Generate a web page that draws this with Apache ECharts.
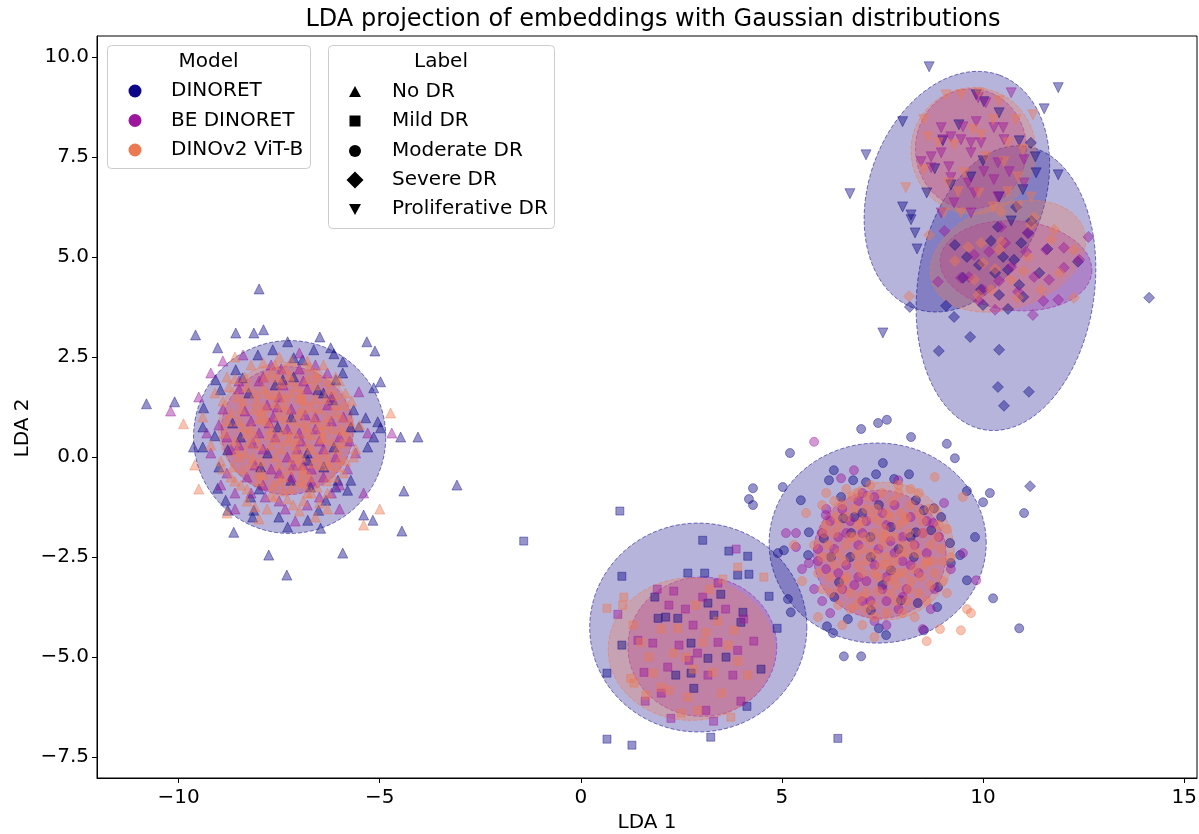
<!DOCTYPE html>
<html>
<head>
<meta charset="utf-8">
<title>LDA projection of embeddings with Gaussian distributions</title>
<script src="https://cdn.jsdelivr.net/npm/echarts@6/dist/echarts.min.js"></script>
<style>
  html, body { margin: 0; padding: 0; background: #fff; }
  #chart { width: 1199px; height: 834px; }
</style>
</head>
<body>
<div id="chart"></div>
<script>
// ---- categories and tick labels ----
const models = ['DINORET', 'BE DINORET', 'DINOv2 ViT-B'];
const labels = ['No DR', 'Mild DR', 'Moderate DR', 'Severe DR', 'Proliferative DR'];
const xTicks = [-10, -5, 0, 5, 10, 15];
const yTicks = [-7.5, -5, -2.5, 0, 2.5, 5, 7.5, 10];

// ---- LDA points: [LDA 1, LDA 2] ----
// No DR
const noDrDinoret = [[-10.8,1.33],[-10.1,1.38],[-9.58,3.05],[-9.03,2.73],[-8.58,3.1],[-8.13,3.1],[-7.89,3.18],[-8.0,4.2],[-7.29,2.88],[-6.49,3.0],[-6.22,2.73],[-5.32,2.88],[-5.12,2.65],[-4.98,1.88],[-5.15,1.73],[-4.48,0.5],[-4.05,0.5],[-4.4,-0.85],[-4.45,-1.85],[-5.17,-1.58],[-5.4,-1.45],[-5.92,-2.4],[-7.76,-2.45],[-7.31,-2.95],[-8.63,-1.88],[-9.63,0.25],[-9.4,0.25],[-9.4,0.75],[-3.08,-0.7],
  [-8.03,2.55],[-7.66,2.68],[-7.14,2.48],[-6.92,2.43],[-6.64,2.68],[-6.14,2.58],[-5.92,2.38],[-8.58,2.18],[-9.08,1.93],[-8.96,1.68],[-9.38,1.23],[-9.1,0.53],[-8.78,0.18],[-9.0,-0.25],[-9.03,-0.78],[-8.83,-1.08],[-8.78,-1.33],[-8.21,-1.0],[-8.13,-1.33],[-8.16,-1.5],[-7.51,-1.5],[-7.29,-1.75],[-6.79,-1.58],[-6.52,-1.33],[-6.47,-1.78],[-6.34,-1.08],[-6.09,-0.75],[-5.8,-0.83],[-5.72,-0.58],[-5.35,0.98],[-5.52,0.75],[-5.05,0.88],[-5.15,0.5],[-5.3,0.25],[-4.98,0.73],[-6.09,1.93],[-5.92,2.1],[-6.17,1.43],[-5.65,1.18],[-5.72,0.75],[-7.14,2.0],[-7.41,1.93],[-8.41,1.98],[-8.26,1.6],[-8.66,0.85],[-8.46,0.5],[-6.14,0.25],[-6.39,-0.25],[-6.79,-0.08],[-7.79,0.1],[-7.96,-0.25],[-7.21,-0.58],[-6.72,-0.75],[-6.04,-0.58],[-7.54,0.75],[-6.54,1.68],[-7.2,1.0],[-6.8,0.1],[-7.6,1.8],[-8.0,-0.8],[-6.4,1.6]];
const noDrBe = [[-10.2,1.15],[-9.5,1.5],[-9.2,2.1],[-8.9,2.4],[-8.4,2.55],[-7.7,2.3],[-7.0,2.2],[-6.3,2.1],[-5.52,1.63],[-4.7,0.6],[-5.3,0.6],[-5.6,0.1],[-5.8,-0.3],[-6.2,-0.9],[-6.8,-1.2],[-7.5,-1.1],[-8.2,-0.9],[-8.8,-0.4],[-9.2,0.1],[-9.3,0.6],[-8.9,1.2],[-8.5,1.7],[-8.0,1.9],[-7.4,1.8],[-6.8,1.7],[-6.2,1.5],[-5.9,1.0],[-6.0,0.5],[-6.4,0.2],[-6.9,-0.2],[-7.5,-0.4],[-8.1,-0.2],[-8.5,0.3],[-8.2,0.9],[-7.8,1.3],[-7.2,1.2],[-6.6,1.0],[-6.5,0.4],[-7.0,0.6],[-7.6,0.5],[-7.9,0.2],[-7.3,0.0],[-6.7,-0.6],[-7.9,-0.7],[-8.6,-1.3],[-7.1,-1.6],[-6.0,-1.3],[-5.4,-0.9],[-9.0,0.8],[-7.0,2.6],
  [-8.7,0.2],[-8.35,1.15],[-8.0,0.6],[-7.65,1.0],[-7.3,0.7],[-6.95,0.4],[-6.6,0.7],[-6.3,1.3],[-6.1,0.0],[-6.7,-0.3],[-7.2,-0.5],[-7.7,-0.3],[-8.3,-0.5],[-7.5,1.5],[-6.9,1.9],[-7.9,2.0],[-6.0,-0.7],[-8.6,-0.9],[-7.35,-1.3],[-6.5,-1.0],
  [-8.8,0.5],[-8.5,1.9],[-8.15,0.35],[-7.85,-1.0],[-7.55,1.25],[-7.15,-0.2],[-6.85,1.05],[-6.4,-0.5],[-6.2,0.9],[-5.75,0.4],[-7.45,2.2],[-6.6,2.3],[-8.95,-0.7],[-7.05,0.2],[-7.75,0.85]];
const noDrDinov2 = [[-9.88,0.83],[-4.73,1.1],[-9.1,1.6],[-8.8,2.0],[-8.2,2.3],[-7.5,2.5],[-6.8,2.4],[-6.1,2.0],[-5.7,1.4],[-5.5,0.8],[-5.6,0.2],[-5.9,-0.4],[-6.3,-0.9],[-6.9,-1.1],[-7.6,-1.0],[-8.3,-0.8],[-8.9,-0.3],[-9.2,0.3],[-8.8,0.9],[-8.4,1.4],[-7.9,1.7],[-7.2,1.9],[-6.6,1.8],[-6.1,1.3],[-6.0,0.7],[-6.3,-0.1],[-6.9,-0.4],[-7.4,-0.5],[-8.0,-0.4],[-8.5,0.0],[-8.3,0.6],[-7.9,1.0],[-7.4,1.3],[-6.9,1.2],[-6.5,0.8],[-6.8,0.3],[-7.3,0.4],[-7.7,0.7],[-7.1,0.9],[-7.6,0.0],[-7.0,-0.2],[-6.4,0.5],[-8.0,0.3],[-8.6,-0.6],[-9.5,-0.8],[-8.8,-1.4],[-8.0,-1.55],[-6.6,-1.5],[-5.4,-1.7],[-5.0,-1.3],[-9.4,1.0],[-7.0,1.5],[-6.3,1.0],[-7.5,1.6],[-8.1,1.2],[-6.7,-0.9],[-7.2,-0.8],[-5.8,0.5],[-9.6,-0.2],[-8.6,2.5],
  [-8.7,1.1],[-8.6,0.4],[-8.4,-0.3],[-8.2,0.7],[-8.1,1.6],[-7.95,-0.1],[-7.8,0.9],[-7.7,2.1],[-7.65,-0.7],[-7.5,1.05],[-7.45,0.2],[-7.35,2.2],[-7.25,-0.3],[-7.15,0.65],[-7.05,1.75],[-6.95,0.0],[-6.85,1.4],[-6.75,-0.5],[-6.7,0.55],[-6.6,2.1],[-6.5,1.2],[-6.45,-0.2],[-6.35,0.8],[-6.25,1.7],[-6.15,-0.5],[-6.05,0.2],[-5.95,1.0],[-5.85,-0.1],[-5.75,0.9],[-8.35,2.0],[-8.55,1.5],[-8.85,0.6],[-8.95,-0.1],[-7.9,2.35],[-7.2,2.4],[-6.4,2.3],[-6.0,1.9],[-7.8,-1.3],[-7.0,-1.35],[-6.3,-1.3],[-8.3,-1.1],[-7.55,0.45],[-7.1,0.3],[-6.9,0.85],[-7.35,1.5],[-7.85,1.25],[-8.15,0.0],[-6.55,0.0],[-6.8,-0.9],[-7.4,-0.85],
  [-8.75,1.75],[-8.5,0.9],[-8.45,-0.7],[-8.25,0.35],[-8.05,1.4],[-7.9,-0.45],[-7.75,0.55],[-7.6,1.35],[-7.55,2.0],[-7.5,-0.2],[-7.35,0.95],[-7.3,-1.05],[-7.2,1.6],[-7.1,0.1],[-7.0,1.1],[-6.9,-0.65],[-6.85,0.6],[-6.8,1.95],[-6.7,0.2],[-6.6,1.45],[-6.55,-0.75],[-6.45,0.45],[-6.3,1.9],[-6.25,-0.2],[-6.2,0.7],[-6.1,1.55],[-5.95,0.35],[-5.9,1.3],[-8.65,-0.25],[-8.0,0.95],[-7.7,-0.95],[-7.25,0.5],[-6.95,1.45],[-6.65,0.95],[-7.8,1.6],[-8.35,0.1],[-7.45,1.85],[-7.0,-0.6],[-6.35,0.1],[-6.05,-0.25],
  [-8.9,1.4],[-8.7,-0.5],[-8.55,0.15],[-8.4,0.75],[-8.3,1.75],[-8.2,-0.15],[-8.1,0.5],[-7.95,1.15],[-7.85,2.0],[-7.7,0.3],[-7.65,1.55],[-7.5,-0.6],[-7.4,0.65],[-7.3,1.2],[-7.25,2.05],[-7.15,-0.05],[-7.05,0.45],[-6.95,1.6],[-6.9,-0.3],[-6.8,0.75],[-6.7,1.25],[-6.65,-0.15],[-6.55,2.0],[-6.45,0.65],[-6.35,1.45],[-6.3,-0.6],[-6.2,0.4],[-6.1,1.1],[-6.0,-0.05],[-5.9,0.65],[-8.45,1.2],[-8.0,-0.6],[-7.6,2.3],[-6.75,2.25],[-5.85,1.6],[-8.6,1.95],[-7.15,-1.2],[-6.5,-1.15],[-8.1,-1.25],[-5.65,0.0]];

// Mild DR
const mildDinoret = [[0.97,-1.35],[-1.42,-2.1],[3.03,-2.08],[4.15,-2.48],[3.68,-2.35],[2.66,-2.9],[3.08,-2.9],[3.9,-2.95],[4.18,-2.93],[1.02,-2.98],[4.68,-3.48],[4.88,-4.28],[1.84,-3.5],[1.02,-4.7],[0.65,-5.4],[4.13,-6.23],[4.48,-5.3],[0.65,-7.05],[1.27,-7.2],[3.23,-7.0],[6.39,-7.03],
  [1.92,-4.03],[2.11,-4.0],[2.41,-4.03],[3.31,-3.95],[4.03,-3.88],[2.74,-4.65],[3.61,-5.0],[2.36,-5.45],[2.74,-5.4],[3.16,-5.03],[2.81,-5.78],[3.98,-4.13],[3.48,-3.43],[3.16,-3.65]];
const mildBe = [[3.86,-2.3],[2.31,-3.35],[0.92,-3.93],[3.03,-3.5],[2.19,-3.7],[3.41,-3.15],[2.79,-4.2],[2.44,-4.7],[1.79,-4.65],[3.41,-4.63],[3.9,-4.83],[2.16,-5.25],[3.16,-5.45],[3.78,-5.45],[2.24,-6.53],[3.98,-6.1],[3.11,-6.33],[4.05,-4.05],[1.57,-5.38],[2.69,-5.08],[1.42,-4.58],
  [2.0,-5.9],[2.6,-3.8],[3.6,-3.8],[1.9,-3.3],[3.3,-6.6],[4.3,-4.6],[2.9,-4.9],[1.6,-6.1]];
const mildDinov2 = [[0.65,-3.78],[1.07,-3.5],[1.04,-3.7],[4.55,-3.0],[3.9,-2.75],[3.53,-3.05],[2.86,-3.7],[2.41,-4.28],[3.03,-4.63],[1.49,-4.63],[1.69,-5.0],[2.61,-5.0],[3.66,-4.7],[1.32,-5.65],[1.24,-5.53],[2.19,-5.83],[2.66,-6.0],[3.73,-6.5],[2.91,-6.33],[4.15,-5.45],[3.81,-4.33],[1.99,-5.75],[1.62,-5.95],[3.28,-5.38],[3.11,-4.38],
  [2.0,-4.3],[2.3,-4.9],[2.8,-5.3],[3.4,-4.1],[3.5,-5.9],[1.8,-5.4],[2.5,-6.4],[3.9,-5.1],[1.3,-4.2],[3.2,-3.3]];

// Moderate DR
const moderateDinoret = [[6.97,0.7],[7.39,0.85],[7.61,0.93],[8.21,0.5],[9.1,0.33],[9.3,-0.03],[5.2,0.1],[6.29,-0.33],[6.47,-1.0],[7.51,-0.15],[8.16,-0.43],[9.6,-0.85],[10.17,-0.9],[10.0,-1.13],[11.02,-1.4],[9.8,-2.0],[9.43,-2.45],[9.6,-3.08],[10.25,-3.53],[10.9,-4.28],[8.86,-3.75],[8.53,-4.33],[7.59,-4.45],[7.41,-4.28],[6.64,-4.05],[6.27,-4.4],[6.12,-4.23],[6.54,-4.98],[6.97,-4.98],[5.22,-3.88],[5.15,-3.55],[4.9,-2.4],[5.05,-2.33],[5.47,-1.08],[5.02,-0.75],[4.28,-0.78],[4.28,-1.2],[4.18,-1.05],[5.67,-1.88],[6.17,-0.58],[6.77,-0.58],[7.09,-0.63],[7.34,-0.43],[7.79,-0.55],[8.33,-1.08],[8.78,-1.28],[8.96,-1.5],[9.18,-2.15],[9.2,-2.65],[8.88,-3.25],[8.38,-3.65],[7.96,-3.58],[7.21,-3.83],[6.42,-3.13],[6.22,-2.5],[6.52,-1.53],[7.41,-1.2],[8.53,-1.33],[8.71,-1.83],[8.33,-1.88],[7.71,-2.83],[7.21,-2.5],[6.72,-1.9],[7.71,-1.75],[8.28,-2.5],[6.04,-2.03],[5.65,-2.45],
  [6.8,-1.5],[7.2,-2.0],[7.9,-2.3],[7.5,-3.2],[6.7,-2.5],[8.2,-2.0],[6.3,-3.5],[7.0,-1.4]];
const moderateBe = [[5.8,0.38],[5.1,-1.9],[5.35,-1.9],[5.35,-2.25],[5.67,-2.65],[6.47,-0.53],[6.79,-0.33],[7.89,-0.58],[9.03,-1.15],[8.76,-1.65],[9.83,-3.08],[6.09,-1.45],
  [6.2,-1.6],[6.5,-1.3],[6.9,-1.1],[7.3,-1.0],[7.8,-1.2],[8.2,-1.5],[8.5,-1.9],[8.6,-2.4],[8.4,-2.9],[8.1,-3.3],[7.6,-3.6],[7.0,-3.6],[6.5,-3.3],[6.1,-2.8],[5.9,-2.3],[6.0,-1.9],[6.6,-1.9],[7.1,-1.6],[7.6,-1.7],[8.0,-2.0],[8.0,-2.6],[7.6,-3.0],[7.1,-3.1],[6.6,-2.7],[6.9,-2.2],[7.4,-2.3],[7.3,-2.7],[7.8,-2.4],[6.3,-2.3],[6.8,-3.2],[7.9,-3.8],[8.8,-3.3],[5.8,-3.3],[6.2,-3.9],[7.3,-4.1],[8.5,-4.3],[9.2,-2.8],[9.5,-2.4],[5.5,-2.8],
  [6.4,-2.0],[6.7,-1.6],[7.0,-1.9],[7.5,-1.4],[7.7,-2.1],[8.3,-2.2],[8.2,-2.7],[7.5,-3.3],[6.9,-3.0],[6.4,-2.9],[5.9,-2.6],[7.2,-3.6],[8.6,-1.6],[8.9,-2.0],[6.1,-1.3],[7.0,-0.9],[8.0,-3.5],[8.7,-3.8],[6.0,-3.6],[7.6,-4.2]];
const moderateDinov2 = [[6.0,-1.2],[6.6,-0.8],[7.2,-0.7],[7.9,-0.7],[8.4,-0.9],[8.8,-1.3],[9.1,-1.8],[9.2,-2.5],[9.0,-3.1],[8.6,-3.6],[8.0,-3.9],[7.3,-4.0],[6.7,-3.8],[6.2,-3.4],[5.9,-2.9],[5.8,-2.2],[6.1,-1.7],[6.6,-1.5],[7.1,-1.3],[7.6,-1.4],[8.1,-1.5],[8.5,-1.9],[8.6,-2.6],[8.2,-3.1],[7.7,-3.4],[7.1,-3.4],[6.6,-3.0],[6.4,-2.4],[6.8,-2.0],[7.3,-1.9],[7.8,-2.0],[8.1,-2.4],[7.9,-2.9],[7.4,-3.0],[6.9,-2.7],[7.2,-2.4],[7.6,-2.5],[7.5,-2.2],[7.0,-2.3],[7.9,-1.7],[6.3,-1.9],[5.3,-2.2],[5.5,-3.1],[5.6,-1.4],[5.9,-4.0],[6.5,-4.2],[9.6,-3.8],[9.45,-4.33],[9.7,-3.9],[8.93,-4.3],[8.6,-4.6],[7.3,-4.5],[8.8,-0.5],[9.5,-1.0],[6.1,-0.9],
  [6.3,-2.7],[6.5,-1.2],[6.7,-3.4],[6.9,-1.7],[7.0,-2.9],[7.15,-1.0],[7.25,-3.7],[7.4,-1.6],[7.45,-2.7],[7.7,-2.8],[7.75,-1.1],[7.85,-3.2],[8.0,-2.2],[8.2,-1.2],[8.3,-2.8],[8.4,-3.4],[8.5,-1.6],[8.7,-2.2],[8.8,-2.9],[8.9,-1.7],[6.2,-3.0],[6.0,-2.5],[6.4,-3.7],[7.6,-3.9],[8.1,-3.6],[6.8,-1.3],[7.9,-0.9],[6.6,-2.2],[7.2,-2.1],[7.8,-2.6],
  [6.15,-2.2],[6.35,-1.5],[6.55,-2.6],[6.75,-1.0],[6.95,-3.5],[7.05,-2.0],[7.3,-2.9],[7.35,-1.3],[7.55,-1.8],[7.65,-3.1],[7.95,-1.4],[8.05,-2.9],[8.15,-1.9],[8.35,-2.4],[8.45,-3.0],[8.65,-1.3],[8.75,-2.6],[8.95,-2.3],[6.45,-3.3],[7.1,-3.8],[7.85,-3.6],[6.05,-1.9],[7.35,-2.45],[7.6,-2.0],[6.85,-2.45],
  [6.2,-2.5],[6.4,-1.7],[6.55,-3.1],[6.7,-2.0],[6.85,-3.7],[7.0,-1.6],[7.1,-2.6],[7.25,-1.5],[7.4,-3.35],[7.5,-2.0],[7.6,-2.7],[7.7,-1.5],[7.8,-3.0],[7.95,-2.4],[8.05,-1.6],[8.15,-3.3],[8.25,-2.2],[8.4,-1.4],[8.55,-2.7],[8.7,-3.2],[8.85,-2.0],[9.0,-2.6],[6.9,-0.9],[7.5,-0.9],[8.2,-0.8],[6.3,-1.1],[6.0,-3.3],[7.0,-4.2],[8.3,-4.0],[9.1,-3.4]];

// Severe DR
const severeDinoret = [[14.13,3.98],[11.17,-0.73],[10.52,1.28],[8.18,3.75],[9.08,3.78],[9.28,3.5],[9.68,3.0],[8.9,2.65],[10.4,2.68],[10.37,1.75],[11.14,1.63],[10.82,6.25],[10.62,3.7],[10.37,5.75],[9.5,4.48],[11.12,5.6],[10.95,5.35],[10.77,4.93],[10.4,4.05],[9.95,4.18],[12.36,4.88],[10.62,4.68],[11.19,7.85],
  [9.6,5.0],[10.2,5.4],[10.9,4.3],[11.4,4.6],[11.6,5.2],[9.9,4.8],[10.5,5.0],[11.0,4.0],[10.0,3.8],[10.3,4.6],[11.2,5.9],[9.3,5.3]];
const severeBe = [[12.62,5.5],[8.88,4.38],[10.3,3.68],[11.24,3.55],[11.87,3.93],[9.04,5.65],[10.45,5.75],[11.12,5.6],[11.57,5.18],[12.01,5.23],[12.39,4.93],[11.64,4.43],[12.01,4.73],[9.78,5.05],[10.15,5.13],[10.7,4.75],[11.07,5.13],[11.27,4.5],[10.0,4.18],[10.87,4.13],[9.65,4.5],[9.45,4.48],[10.4,4.4],[11.5,3.9],[9.9,3.9],[10.55,5.35]];
const severeDinov2 = [[8.16,4.02],[8.66,5.55],[11.27,6.0],[11.19,5.8],[11.77,5.68],[10.45,5.38],[9.95,5.35],[10.4,5.18],[11.12,5.0],[10.7,4.43],[10.2,4.18],[9.88,4.05],[10.87,3.98],[11.44,4.18],[12.26,3.98],[10.0,4.85],[9.78,4.43],[11.69,5.43],[12.26,5.18],[9.63,5.25],[10.45,6.13],[11.0,4.65],[10.3,4.7],[9.3,4.9],[11.9,4.6]];

// Proliferative DR
const prolifDinoret = [[8.66,9.75],[11.87,9.23],[11.52,8.7],[8.0,8.38],[7.09,7.55],[6.69,6.58],[7.51,3.1],[8.0,6.25],[8.21,6.05],[8.31,5.6],[8.36,5.2],[8.21,5.93],[11.32,7.1],[11.87,7.05],[10.99,6.68],[9.83,9.05],[10.02,8.88],
  [9.4,8.3],[9.0,7.9],[10.4,8.6],[10.9,7.9],[11.3,7.5],[9.7,7.0],[9.2,6.8],[10.4,6.5],[8.8,7.2],[10.0,7.4],[8.6,6.6],[10.7,5.9]];
const prolifBe = [[10.7,9.1],[9.88,8.98],[10.07,8.85],[8.96,8.23],[9.5,8.25],[9.83,8.38],[10.27,8.23],[10.5,8.23],[9.0,7.93],[9.2,8.0],[9.45,7.93],[9.7,7.85],[8.46,7.38],[8.71,7.5],[8.96,7.6],[8.71,7.23],[9.15,7.25],[9.7,7.6],[9.95,7.85],[10.52,7.93],[11.02,7.43],[10.37,7.35],[10.02,7.13],[10.65,7.13],[9.63,6.85],[9.2,6.98],[10.27,6.93],[9.78,6.6],[10.37,6.5],[9.28,6.35],[8.96,6.1],[9.7,6.1],[11.02,6.85]];
const prolifDinov2 = [[9.08,9.05],[9.45,9.05],[10.25,8.43],[11.24,8.55],[8.53,8.43],[8.63,8.0],[9.75,8.18],[9.95,8.05],[10.62,7.85],[10.82,8.43],[10.99,7.68],[8.08,6.73],[8.53,7.18],[8.88,7.85],[9.28,7.8],[10.07,7.5],[9.53,7.1],[9.13,6.85],[9.38,6.63],[9.9,6.6],[10.62,6.63],[10.87,7.0],[10.52,7.38],[11.19,6.5],[10.25,6.25],[9.45,6.1],[9.03,6.1],[10.87,6.25],[9.9,9.1],[10.4,8.9]];

// ---- Gaussian ellipses: [centre x, centre y, semi-axis a, semi-axis b, angle of a (deg)] ----
const ellipsesDinoret = [[-7.24,0.5,2.39,2.41,0],[2.92,-4.26,2.7,2.61,0],[7.38,-2.15,2.7,2.5,0],[10.57,4.22,3.58,2.2,82],[9.35,6.63,3.1,2.18,70]];
const ellipsesBe = [[-7.3,0.66,1.64,1.6,0],[3.02,-4.74,1.85,1.74,0],[7.43,-2.43,1.65,1.6,0],[10.82,4.78,1.89,1.12,-5],[9.7,7.7,1.38,1.5,0]];
const ellipsesDinov2 = [[-7.33,0.73,1.68,1.63,0],[2.74,-4.8,2.06,1.78,0],[7.56,-2.35,1.72,1.72,0],[10.62,5.02,2.0,1.3,20],[9.76,7.65,1.55,1.58,0]];

// ---- styling ----
const modelRgb = ['13,8,135', '156,23,158', '237,121,83'];
const labelSymbols = [
  { symbol: 'triangle', size: 10, rotate: 0 },
  { symbol: 'rect', size: 8, rotate: 0 },
  { symbol: 'circle', size: 9, rotate: 0 },
  { symbol: 'diamond', size: 11, rotate: 0 },
  { symbol: 'triangle', size: 10, rotate: 180 }
];
const pointsByModel = [
  [noDrDinoret, mildDinoret, moderateDinoret, severeDinoret, prolifDinoret],
  [noDrBe, mildBe, moderateBe, severeBe, prolifBe],
  [noDrDinov2, mildDinov2, moderateDinov2, severeDinov2, prolifDinov2]
];
const ellipsesByModel = [ellipsesDinoret, ellipsesBe, ellipsesDinov2];
const FONT = 'DejaVu Sans';

function minusFmt(s) { return String(s).replace('-', '\u2212'); }

function scatterSeries(modelIdx, labelIdx) {
  const rgb = modelRgb[modelIdx];
  const sym = labelSymbols[labelIdx];
  return {
    type: 'scatter',
    name: models[modelIdx] + ' / ' + labels[labelIdx],
    data: pointsByModel[modelIdx][labelIdx],
    symbol: sym.symbol,
    symbolSize: sym.size,
    symbolRotate: sym.rotate,
    itemStyle: { color: 'rgba(' + rgb + ',0.55)', borderColor: 'rgba(' + rgb + ',0.5)', borderWidth: 1 },
    emphasis: { disabled: true },
    silent: true,
    animation: false
  };
}

function ellipseSeries(modelIdx) {
  const rgb = modelRgb[modelIdx];
  return {
    type: 'custom',
    name: models[modelIdx] + ' ellipses',
    data: ellipsesByModel[modelIdx],
    encode: { x: 0, y: 1 },
    silent: true,
    animation: false,
    clip: true,
    renderItem: function (params, api) {
      const cx = api.value(0), cy = api.value(1);
      const a = api.value(2), b = api.value(3);
      const th = api.value(4) * Math.PI / 180;
      const pts = [];
      const n = 120;
      for (let k = 0; k < n; k++) {
        const t = 2 * Math.PI * k / n;
        const dx = a * Math.cos(t) * Math.cos(th) - b * Math.sin(t) * Math.sin(th);
        const dy = a * Math.cos(t) * Math.sin(th) + b * Math.sin(t) * Math.cos(th);
        pts.push(api.coord([cx + dx, cy + dy]));
      }
      return {
        type: 'polygon',
        shape: { points: pts },
        style: { fill: 'rgba(' + rgb + ',0.3)', stroke: 'rgba(' + rgb + ',0.55)', lineWidth: 1, lineDash: [4, 2] }
      };
    }
  };
}

// points of each model first, then that model's ellipses
const series = [];
for (let m = 0; m < models.length; m++) {
  for (let l = 0; l < labels.length; l++) series.push(scatterSeries(m, l));
  series.push(ellipseSeries(m));
}

// ---- legend boxes and y-axis title (graphic elements) ----
const legendFont = '20px "' + FONT + '"';
const graphic = [];
function legendBox(x, y, w, h, title) {
  graphic.push({ type: 'rect', z: 100, shape: { x: x + 0.5, y: y + 0.5, width: w, height: h, r: 4 },
    style: { fill: 'rgba(255,255,255,0.8)', stroke: '#cccccc', lineWidth: 1 } });
  graphic.push({ type: 'text', z: 101, x: x + w / 2, y: y + 17,
    style: { text: title, font: legendFont, fill: '#000', textAlign: 'center', textVerticalAlign: 'middle' } });
}
legendBox(107, 45, 203, 123, 'Model');
legendBox(328, 45, 226, 183, 'Label');
const modelRows = [91, 120.5, 150];
models.forEach(function (name, i) {
  graphic.push({ type: 'circle', z: 101, shape: { cx: 135, cy: modelRows[i], r: 6.5 }, style: { fill: 'rgb(' + modelRgb[i] + ')' } });
  graphic.push({ type: 'text', z: 101, x: 171, y: modelRows[i],
    style: { text: name, font: legendFont, fill: '#000', textAlign: 'left', textVerticalAlign: 'middle' } });
});
const labelRows = [92, 121, 151, 180, 209];
const ix = 355;
const labelIcons = [
  { type: 'polygon', shape: { points: [[ix - 6, labelRows[0] + 5], [ix + 6, labelRows[0] + 5], [ix, labelRows[0] - 6]] } },
  { type: 'rect', shape: { x: ix - 5.5, y: labelRows[1] - 5.5, width: 11, height: 11 } },
  { type: 'circle', shape: { cx: ix, cy: labelRows[2], r: 6 } },
  { type: 'polygon', shape: { points: [[ix, labelRows[3] - 8.5], [ix + 8.5, labelRows[3]], [ix, labelRows[3] + 8.5], [ix - 8.5, labelRows[3]]] } },
  { type: 'polygon', shape: { points: [[ix - 6, labelRows[4] - 5], [ix + 6, labelRows[4] - 5], [ix, labelRows[4] + 6]] } }
];
labels.forEach(function (name, i) {
  const icon = labelIcons[i];
  icon.z = 101;
  icon.style = { fill: '#000' };
  graphic.push(icon);
  graphic.push({ type: 'text', z: 101, x: 392, y: labelRows[i],
    style: { text: name, font: legendFont, fill: '#000', textAlign: 'left', textVerticalAlign: 'middle' } });
});
graphic.push({ type: 'text', z: 101, x: 23, y: 428, rotation: Math.PI / 2,
  style: { text: 'LDA 2', font: '20px "' + FONT + '"', fill: '#000', textAlign: 'center', textVerticalAlign: 'middle' } });

const chart = echarts.init(document.getElementById('chart'), null, { renderer: 'canvas' });
chart.setOption({
  backgroundColor: '#ffffff',
  animation: false,
  title: {
    text: 'LDA projection of embeddings with Gaussian distributions',
    left: 648, top: 3, textAlign: 'center',
    textStyle: { fontFamily: FONT, fontSize: 24, fontWeight: 'normal', color: '#000' }
  },
  grid: { left: 97, right: 2, top: 36, bottom: 56, show: true, borderColor: '#000', borderWidth: 1,
    backgroundColor: 'transparent', containLabel: false, outerBoundsMode: 'none' },
  xAxis: {
    type: 'value', min: -12.03, max: 15.32,
    name: 'LDA 1', nameLocation: 'middle', nameGap: 34,
    nameTextStyle: { fontFamily: FONT, fontSize: 20, color: '#000' },
    splitLine: { show: false },
    axisLine: { show: true, onZero: false, lineStyle: { color: '#000', width: 1 } },
    axisTick: { show: true, customValues: xTicks, length: 5, lineStyle: { color: '#000' } },
    axisLabel: { customValues: xTicks, fontFamily: FONT, fontSize: 20, color: '#000', margin: 10,
      formatter: function (v) { return minusFmt(v); } }
  },
  yAxis: {
    type: 'value', min: -8.02, max: 10.52,
    splitLine: { show: false },
    axisLine: { show: true, onZero: false, lineStyle: { color: '#000', width: 1 } },
    axisTick: { show: true, customValues: yTicks, length: 5, lineStyle: { color: '#000' } },
    axisLabel: { customValues: yTicks, fontFamily: FONT, fontSize: 20, color: '#000', margin: 8,
      formatter: function (v) { return minusFmt(Number(v).toFixed(1)); } }
  },
  series: series,
  graphic: graphic
});
</script>
</body>
</html>
